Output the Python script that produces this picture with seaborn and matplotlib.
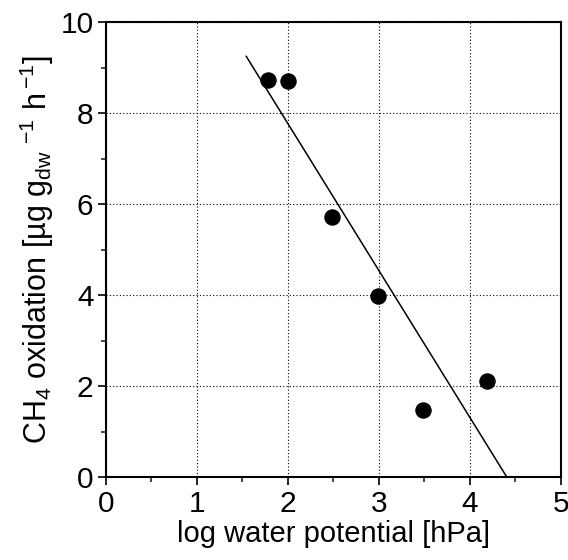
import numpy as np
import pandas as pd
import matplotlib
matplotlib.use("Agg")
import matplotlib.pyplot as plt
import seaborn as sns
from matplotlib.ticker import MultipleLocator

log_potential = [1.78, 2.0, 2.48, 2.99, 3.48, 4.19]
ch4_oxidation = [8.72, 8.70, 5.72, 3.98, 1.47, 2.12]
x_ticks = [0, 1, 2, 3, 4, 5]
y_ticks = [0, 2, 4, 6, 8, 10]

df = pd.DataFrame({"x": log_potential, "y": ch4_oxidation})

sns.set_style("ticks")
plt.rcParams["font.family"] = ["Liberation Sans", "DejaVu Sans"]
plt.rcParams["mathtext.fontset"] = "custom"
plt.rcParams["mathtext.rm"] = "Liberation Sans"
plt.rcParams["mathtext.it"] = "Liberation Sans"
plt.rcParams["mathtext.bf"] = "Liberation Sans"
plt.rcParams["text.color"] = "black"
plt.rcParams["axes.labelcolor"] = "black"

fig = plt.figure(figsize=(5.68, 5.6), dpi=100)
ax = fig.add_axes([0.1866, 0.148, 0.801, 0.8126])

# regression line
slope, intercept = np.polyfit(df["x"], df["y"], 1)
x_line = np.array([1.54, -intercept / slope])
sns.lineplot(x=x_line, y=slope * x_line + intercept, ax=ax, color="black", lw=1.1, zorder=3)

sns.scatterplot(data=df, x="x", y="y", ax=ax, color="black", s=120, edgecolor="black", zorder=4)

ax.set_xlim(0, 5)
ax.set_ylim(0, 10)
ax.set_xticks(x_ticks)
ax.set_yticks(y_ticks)
ax.xaxis.set_minor_locator(MultipleLocator(0.5))
ax.yaxis.set_minor_locator(MultipleLocator(1))
ax.grid(True, which="major", linestyle=(0, (1, 2)), color="black", lw=0.8)
ax.tick_params(which="major", direction="out", length=6, width=1.2, labelsize=21.5,
               colors="black", pad=3)
ax.tick_params(which="minor", direction="out", length=3.5, width=1.2)
for sp in ax.spines.values():
    sp.set_linewidth(1.5)
    sp.set_color("black")

ax.set_xlabel("log water potential [hPa]", fontsize=21, labelpad=2)
ax.set_ylabel(r"CH$_4$ oxidation [µg g$_{dw}$$\;^{-1}$ h$\,^{-1}$]", fontsize=22, labelpad=3)

fig.savefig("out.png", dpi=100)
